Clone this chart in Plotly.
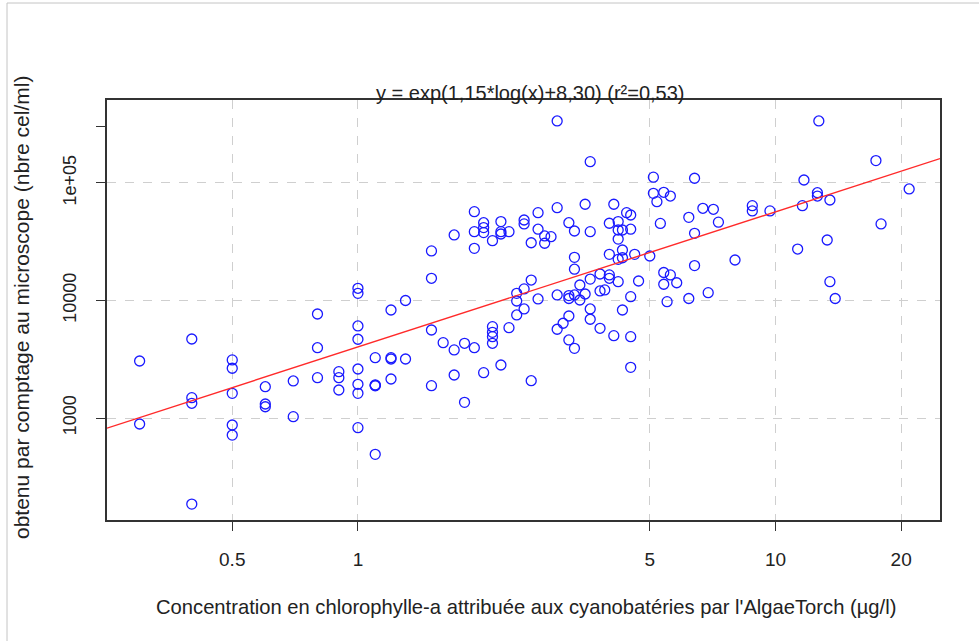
import math
import plotly.graph_objects as go

# ---- data ----
chl = (
    [0.3] * 2 + [0.4] * 4 + [0.5] * 5 + [0.6] * 3 + [0.7] * 2 + [0.8] * 3 + [0.9] * 3
    + [1.0] * 8 + [1.1] * 5 + [1.2] * 4 + [1.3] * 2 + [1.5] * 4 + [1.6] + [1.7] * 3
    + [1.8] * 2 + [1.9] * 4 + [2.0] * 4 + [2.1] * 5 + [2.2] * 4 + [2.3] * 2 + [2.4] * 3
    + [2.5] * 4 + [2.6] * 3 + [2.7] * 3 + [2.8] * 2 + [2.9] + [3.0] * 4 + [3.1]
    + [3.2] * 5 + [3.3] * 5 + [3.4] * 2 + [3.5] * 2 + [3.6] * 5 + [3.8] * 3 + [3.9]
    + [4.0] * 4 + [4.1] * 2 + [4.2] * 5 + [4.3] * 4 + [4.4] + [4.5] * 5 + [4.6] + [4.7]
    + [5.0] + [5.1] * 2 + [5.2] + [5.3] + [5.4] * 3 + [5.5] + [5.6] * 2 + [5.8]
    + [6.2] * 2 + [6.4] * 3 + [6.7] + [6.9] + [7.1] + [7.3] + [8.0] + [8.8] * 2 + [9.7]
    + [11.3] + [11.6] + [11.7] + [12.6] * 2 + [12.7] + [13.3] + [13.5] * 2 + [13.9]
    + [17.4] + [17.9] + [20.9]
)
cells = [
    3055, 889,
    4700, 1489, 1334, 185,
    3120, 2650, 1622, 872, 716,
    1846, 1316, 1247,
    2066, 1026,
    7670, 3963, 2203,
    2478, 2203, 1730,
    12700, 11500, 6070, 4680, 2611, 1936, 1622, 827,
    3260, 1910, 1880, 491, 1895,
    8300, 3260, 3177, 2148,
    10000, 3177,
    26400, 15450, 5610, 1883,
    4378,
    36100, 3795, 2323,
    4323, 1360,
    57000, 38500, 27800, 3963,
    45900, 41700, 37800, 2432,
    32300, 5987, 5359, 4920, 4323,
    46900, 38500, 36800, 2825,
    38500, 5870,
    11500, 9900, 7530,
    48400, 44800, 12540, 8470,
    31000, 14930, 2076,
    55900, 40400, 10300,
    35400, 30700,
    34900,
    337000, 61600, 11140, 5690,
    6400,
    45900, 11000, 10400, 7380, 4614,
    39000, 23300, 18450, 11140, 3918,
    13550, 10090,
    65900, 11350,
    151700, 38500, 15200, 8470, 6920,
    16800, 12050, 5800,
    12300,
    45400, 24700, 16500, 15450,
    65900, 5015,
    46900, 39800, 33300, 22400, 14450,
    39800, 26900, 23100, 8300,
    55900,
    53400, 40400, 10770, 4920, 2698,
    24700,
    14650,
    23900,
    112000, 81600,
    69300,
    45300,
    83300, 17300, 13750,
    9770,
    77400, 16500,
    14160,
    51000, 10400,
    109700, 37300, 19800,
    60900,
    11650,
    59700,
    46400,
    22100,
    64100, 57800,
    57800,
    27400,
    64100,
    106000,
    82600, 77400,
    337000,
    32700,
    71600, 14450,
    10400,
    155000,
    44800,
    88900,
]

fit_slope = 1.15
fit_intercept = 8.30
r2 = 0.53

x_ticks = [0.5, 1, 5, 10, 20]
x_ticktext = ["0.5", "1", "5", "10", "20"]
y_ticks = [1000, 10000, 100000]
y_ticktext = ["1000", "10000", "1e+05"]
y_minor = [300000]

title_txt = "y = exp(1,15*log(x)+8,30) (r²=0,53)"
x_title = "Concentration en chlorophylle-a attribuée aux cyanobatéries par l'AlgaeTorch (µg/l)"
y_title = "obtenu par comptage au microscope (nbre cel/ml)"

n = min(len(chl), len(cells))
chl = chl[:n]
cells = cells[:n]

# ---- layout geometry ----
W, H = 979, 641
L, R, T, B = 107, 39, 100, 121
PW, PH = W - L - R, H - T - B
x_range = [-0.601, 1.394]
y_range = [2.132, 5.706]

def px2paper_x(px):
    return (px - L) / PW

def px2paper_y(py):
    return (H - B - py) / PH

fit_x = [10 ** x_range[0], 10 ** x_range[1]]
fit_y = [math.exp(fit_slope * math.log(v) + fit_intercept) for v in fit_x]

FONT = "Liberation Sans, Arial, Helvetica, sans-serif"
TXT = "#222222"

fig = go.Figure()
fig.add_trace(go.Scatter(
    x=chl, y=cells, mode="markers",
    marker=dict(symbol="circle-open", size=10, color="#1a1aff", line=dict(width=1.3)),
    showlegend=False, hoverinfo="x+y",
))
fig.add_trace(go.Scatter(
    x=fit_x, y=fit_y, mode="lines",
    line=dict(color="#ff2a2a", width=1.4),
    showlegend=False, hoverinfo="skip",
))

axis_common = dict(
    showline=True, linecolor="#333333", linewidth=1.5, mirror=True,
    ticks="outside", ticklen=9, tickwidth=1, tickcolor="#333333",
    showgrid=True, gridcolor="#cfcfcf", griddash="dash", gridwidth=1,
    zeroline=False,
)

fig.update_xaxes(type="log", range=x_range, tickmode="array",
                 tickvals=x_ticks, ticktext=x_ticktext,
                 tickfont=dict(family=FONT, size=19, color=TXT),
                 ticklabelstandoff=12, **axis_common)
fig.update_yaxes(type="log", range=y_range, tickmode="array",
                 tickvals=y_ticks, ticktext=y_ticktext, tickangle=-90,
                 tickfont=dict(family=FONT, size=18, color=TXT),
                 ticklabelstandoff=13,
                 minor=dict(tickmode="array", tickvals=y_minor, ticks="outside",
                            ticklen=9, tickcolor="#333333", showgrid=False),
                 **axis_common)

fig.update_layout(
    width=W, height=H,
    margin=dict(l=L, r=R, t=T, b=B, pad=0),
    paper_bgcolor="white", plot_bgcolor="white",
    font=dict(family=FONT, color=TXT),
    annotations=[
        dict(text=title_txt, xref="paper", yref="paper",
             x=px2paper_x(530), y=px2paper_y(93), xanchor="center", yanchor="middle",
             showarrow=False, font=dict(family=FONT, size=20, color=TXT)),
        dict(text=x_title, xref="paper", yref="paper",
             x=px2paper_x(526), y=px2paper_y(607), xanchor="center", yanchor="middle",
             showarrow=False, font=dict(family=FONT, size=20.2, color=TXT)),
        dict(text=y_title, xref="paper", yref="paper", textangle=-90,
             x=px2paper_x(21), y=px2paper_y(308), xanchor="center", yanchor="middle",
             showarrow=False, font=dict(family=FONT, size=21, color=TXT)),
    ],
    shapes=[
        dict(type="rect", xref="paper", yref="paper", layer="below",
             x0=px2paper_x(7), x1=px2paper_x(995), y0=px2paper_y(660), y1=px2paper_y(3),
             line=dict(color="#c4c4c4", width=1), fillcolor="rgba(0,0,0,0)"),
    ],
)

fig.write_html("out.html")
